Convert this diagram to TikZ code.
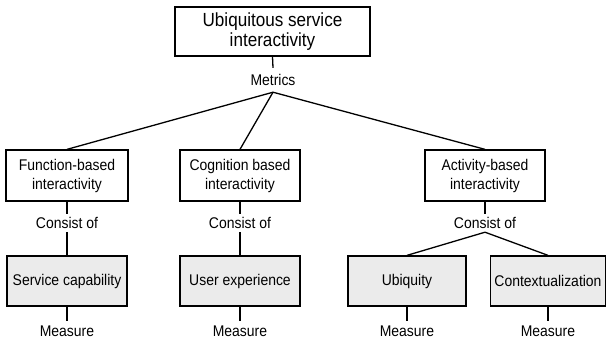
\documentclass[tikz,border=0pt]{standalone}
\usepackage{fontspec}
\setmainfont[FakeStretch=0.9]{Liberation Sans}
\begin{document}
\begin{tikzpicture}[x=1pt,y=-1pt,
  conn/.style={line width=1.3pt},
  box/.style={draw,line width=1.3pt,align=center,inner sep=0pt,font=\fontsize{15.5}{19}\selectfont},
  titlebox/.style={box,font=\fontsize{19}{19.5}\selectfont},
  shaded/.style={box,fill=black!8},
  lbl/.style={inner sep=0pt,font=\fontsize{15.5}{17}\selectfont}
]
\useasboundingbox (0,0) rectangle (606,341);
% top
\node[titlebox,minimum width=195pt,minimum height=49pt] (top) at (272.5,31.5) {Ubiquitous service\\interactivity};
\node[lbl,minimum height=24pt] (metrics) at (273,80) {Metrics};
% second level
\node[box,minimum width=122pt,minimum height=51pt] (func) at (67,175.5) {Function-based\\interactivity};
\node[box,minimum width=120pt,minimum height=51pt] (cog) at (240,175.5) {Cognition based\\interactivity};
\node[box,minimum width=120pt,minimum height=51pt] (act) at (485,175.5) {Activity-based\\interactivity};
% consist of
\node[lbl,minimum height=18pt] (c1) at (67,223) {Consist of};
\node[lbl,minimum height=18pt] (c2) at (240,223) {Consist of};
\node[lbl,minimum height=18pt] (c3) at (485,223) {Consist of};
% shaded
\node[shaded,minimum width=120pt,minimum height=50pt] (svc) at (67,281) {Service capability};
\node[shaded,minimum width=120pt,minimum height=50pt] (ux) at (240,281) {User experience};
\node[shaded,minimum width=118pt,minimum height=50pt] (ubi) at (407,281) {Ubiquity};
\node[shaded,minimum width=115pt,minimum height=50pt] (ctx) at (548,281) {Contextualization};
% measure
\node[lbl,minimum height=20pt] (m1) at (67,331) {Measure};
\node[lbl,minimum height=20pt] (m2) at (240,331) {Measure};
\node[lbl,minimum height=20pt] (m3) at (407,331) {Measure};
\node[lbl,minimum height=20pt] (m4) at (548,331) {Measure};
% connectors
\draw[conn] (top.south) -- (metrics.north);
\draw[conn] (metrics.south) -- (func.north);
\draw[conn] (metrics.south) -- (cog.north);
\draw[conn] (metrics.south) -- (act.north);
\draw[conn] (func.south) -- (c1.north);
\draw[conn] (cog.south) -- (c2.north);
\draw[conn] (act.south) -- (c3.north);
\draw[conn] (c1.south) -- (svc.north);
\draw[conn] (c2.south) -- (ux.north);
\draw[conn] (c3.south) -- (ubi.north);
\draw[conn] (c3.south) -- (ctx.north);
\draw[conn] (svc.south) -- (m1.north);
\draw[conn] (ux.south) -- (m2.north);
\draw[conn] (ubi.south) -- (m3.north);
\draw[conn] (ctx.south) -- (m4.north);
\end{tikzpicture}
\end{document}
